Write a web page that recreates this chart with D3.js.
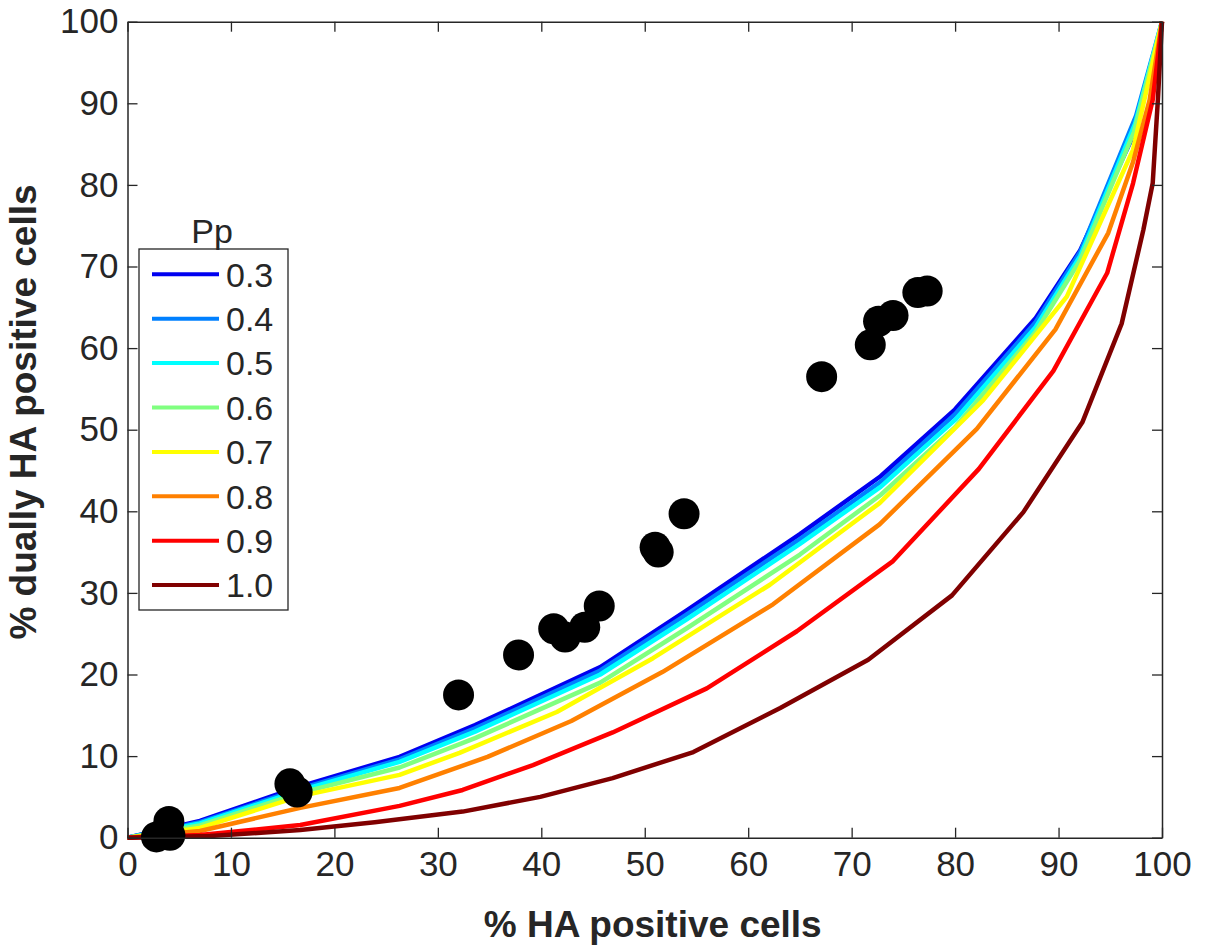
<!DOCTYPE html>
<html>
<head>
<meta charset="utf-8">
<script src="https://cdn.jsdelivr.net/npm/d3@7"></script>
<style>
  body { margin: 0; background: #fff; }
  text { font-family: "Liberation Sans", Arial, Helvetica, sans-serif; fill: #262626; }
</style>
</head>
<body>
<div id="chart"></div>
<script>
// model curves, one per Pp value: [% HA positive, % dually HA positive]
const pp03 = [[0,0],[7,2.05],[16.7,6.3],[26.3,9.9],[33.6,13.8],[45.7,20.9],[54.1,27.9],[65,37.2],[72.8,44.3],[80,52.5],[87.8,63.7],[92.1,72.0],[97.6,87.1],[100,100]];
const pp04 = [[0,0],[7,1.9],[16.7,6.0],[26.3,9.6],[33.6,13.4],[45.7,20.5],[54.1,27.4],[65,36.6],[72.8,43.6],[80,51.9],[87.8,63.2],[92.1,71.8],[97.5,88.5],[100,100]];
const pp05 = [[0,0],[7,1.75],[16.7,5.8],[26.3,9.3],[33.6,13.0],[45.7,20.0],[54.1,26.8],[65,36.0],[72.8,43.0],[80,51.2],[87.8,62.6],[92.1,71.3],[97.4,87.5],[100,100]];
const pp06 = [[0,0],[7,1.5],[16.7,5.5],[26.3,8.6],[33.6,12.2],[45.7,19.0],[54.1,25.7],[65,34.7],[72.8,42.0],[80,50.3],[87.8,62.0],[92.1,70.8],[97.3,86.5],[100,100]];
const pp07 = [[0,0],[7,1.2],[16.7,5.1],[26.3,7.7],[32.1,10.4],[41.5,15.4],[50.8,22.0],[62.1,31.0],[72.7,41.0],[82.7,53.6],[90.8,66.3],[97.2,84.3],[100,100]];
const pp08 = [[0,0],[7,0.82],[16.7,3.65],[26.3,6.1],[34.8,9.9],[42.9,14.3],[51.7,20.3],[62.4,28.6],[72.7,38.4],[82.1,50.1],[89.7,62.3],[94.8,74.1],[97.2,82.8],[98.8,90.4],[100,100]];
const pp09 = [[0,0],[7,0.33],[16.7,1.55],[26.3,3.9],[32.4,5.85],[39.2,8.9],[46.9,12.9],[56,18.3],[64.7,25.3],[74,33.9],[82.3,45.2],[89.5,57.2],[94.7,69.2],[97.2,80.2],[99.1,90.4],[100,100]];
const pp10 = [[0,0],[8,0.2],[16.7,0.94],[23.9,1.9],[32.4,3.2],[39.9,5.0],[46.9,7.3],[54.7,10.5],[63.1,15.9],[71.6,21.8],[79.7,29.7],[86.6,39.9],[92.3,50.9],[96.1,63.0],[98.2,74.5],[99.1,80.2],[99.6,90.4],[100,100]];

const ppLabels = ["0.3", "0.4", "0.5", "0.6", "0.7", "0.8", "0.9", "1.0"];
const ppColors = ["#0000f0", "#0080ff", "#00ffff", "#80ff80", "#ffff00", "#ff8000", "#ff0000", "#800000"];

// measured samples
const cellsX = [2.8, 4.0, 4.1, 15.7, 16.4, 32.0, 37.8, 41.2, 42.3, 44.2, 45.6, 51.0, 51.3, 53.8, 67.1, 71.8, 72.6, 74.0, 76.4, 77.3];
const cellsY = [0.1, 2.0, 0.3, 6.6, 5.6, 17.5, 22.4, 25.6, 24.6, 25.8, 28.4, 35.6, 35.0, 39.7, 56.5, 60.4, 63.3, 64.0, 66.8, 67.0];

const axisTicks = [0, 10, 20, 30, 40, 50, 60, 70, 80, 90, 100];

const width = 1210;
const height = 949;
const margin = { top: 21.7, right: 48, bottom: 111.3, left: 127.5 };
const axisColor = "#262626";

const curves = [pp03, pp04, pp05, pp06, pp07, pp08, pp09, pp10];

const svg = d3.select("#chart")
  .append("svg")
  .attr("width", width)
  .attr("height", height);

svg.append("rect").attr("width", width).attr("height", height).attr("fill", "#fff");

const x = d3.scaleLinear()
  .domain([0, 100])
  .range([margin.left, width - margin.right]);

const y = d3.scaleLinear()
  .domain([0, 100])
  .range([height - margin.bottom, margin.top]);

const line = d3.line()
  .x(d => x(d[0]))
  .y(d => y(d[1]));

// curves
svg.append("g")
  .attr("fill", "none")
  .attr("stroke-width", 4.5)
  .attr("stroke-linejoin", "round")
  .selectAll("path")
  .data(curves)
  .join("path")
  .attr("stroke", (d, i) => ppColors[i])
  .attr("d", line);

// dots
svg.append("g")
  .selectAll("circle")
  .data(cellsX)
  .join("circle")
  .attr("cx", d => x(d))
  .attr("cy", (d, i) => y(cellsY[i]))
  .attr("r", 15.5)
  .attr("fill", "#000");

// axes (ticks point inward, box all round)
function styleAxis(g) {
  g.select(".domain").attr("stroke", axisColor).attr("stroke-width", 1.5);
  g.selectAll(".tick line").attr("stroke", axisColor).attr("stroke-width", 1.3);
  g.selectAll(".tick text")
    .attr("fill", axisColor)
    .attr("font-size", "35px")
    .attr("font-family", "'Liberation Sans', Arial, sans-serif");
}

svg.append("g")
  .attr("transform", `translate(0,${y(0)})`)
  .call(d3.axisBottom(x).tickValues(axisTicks).tickSizeInner(-10).tickSizeOuter(0).tickPadding(13))
  .call(styleAxis);

svg.append("g")
  .attr("transform", `translate(0,${y(100)})`)
  .call(d3.axisTop(x).tickValues(axisTicks).tickSizeInner(-10).tickSizeOuter(0).tickFormat(""))
  .call(styleAxis);

svg.append("g")
  .attr("transform", `translate(${x(0)},0)`)
  .call(d3.axisLeft(y).tickValues(axisTicks).tickSizeInner(-10).tickSizeOuter(0).tickPadding(9))
  .call(styleAxis);

svg.append("g")
  .attr("transform", `translate(${x(100)},0)`)
  .call(d3.axisRight(y).tickValues(axisTicks).tickSizeInner(-10).tickSizeOuter(0).tickFormat(""))
  .call(styleAxis);

// axis titles
svg.append("text")
  .attr("x", (x(0) + x(100)) / 2 + 8)
  .attr("y", 937)
  .attr("text-anchor", "middle")
  .attr("font-size", "37px")
  .attr("font-weight", "bold")
  .text("% HA positive cells");

svg.append("text")
  .attr("transform", `translate(36,412) rotate(-90)`)
  .attr("text-anchor", "middle")
  .attr("font-size", "37px")
  .attr("font-weight", "bold")
  .text("% dually HA positive cells");

// legend
const legend = svg.append("g");
const legX = 139, legY = 249, legW = 149, legRow = 44.4;

legend.append("rect")
  .attr("x", legX)
  .attr("y", legY)
  .attr("width", legW)
  .attr("height", 361)
  .attr("fill", "#fff")
  .attr("stroke", axisColor)
  .attr("stroke-width", 1.3);

legend.append("text")
  .attr("x", 212)
  .attr("y", 243)
  .attr("text-anchor", "middle")
  .attr("font-size", "34px")
  .text("Pp");

const rows = legend.selectAll("g.row")
  .data(ppLabels)
  .join("g")
  .attr("class", "row")
  .attr("transform", (d, i) => `translate(0,${legY + 25.3 + i * legRow})`);

rows.append("line")
  .attr("x1", 152)
  .attr("x2", 219)
  .attr("stroke", (d, i) => ppColors[i])
  .attr("stroke-width", 4);

rows.append("text")
  .attr("x", 226)
  .attr("dy", "0.36em")
  .attr("font-size", "34px")
  .text(d => d);
</script>
</body>
</html>
